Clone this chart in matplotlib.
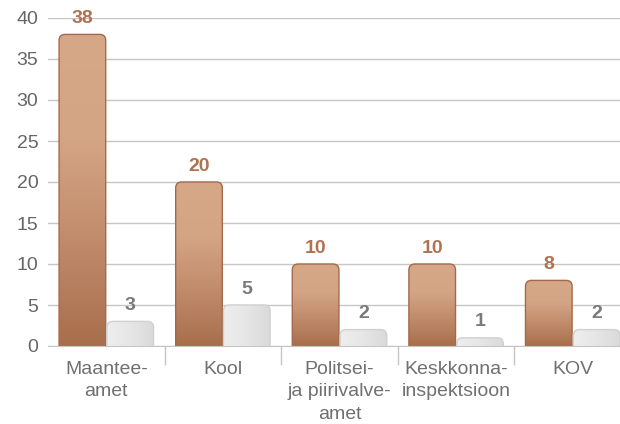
import numpy as np
import matplotlib
matplotlib.use("Agg")
import matplotlib.pyplot as plt
from matplotlib.patches import FancyBboxPatch
from matplotlib.colors import LinearSegmentedColormap

categories = ["Maantee-\namet", "Kool", "Politsei-\nja piirivalve-\namet", "Keskkonna-\ninspektsioon", "KOV"]
series_a = [38, 20, 10, 10, 8]
series_b = [3, 5, 2, 1, 2]
yticks = [0, 5, 10, 15, 20, 25, 30, 35, 40]

plt.rcParams['font.family'] = ['Liberation Sans', 'DejaVu Sans']

fig = plt.figure(figsize=(6.2, 4.24), dpi=100)
W, H = 620, 424
left, right, bottom, top = 48, 631, 346, 18
ax = fig.add_axes([left / W, (H - bottom) / H, (right - left) / W, (bottom - top) / H])
ax.set_xlim(-0.5, 4.5)
ax.set_ylim(0, 40)

x = np.arange(len(categories))
bw = 0.4
off = 0.205

brown_cmap = LinearSegmentedColormap.from_list("br", ["#a86e4c", "#c08b6b", "#d4a585", "#d6a887"])
gray_cmap = LinearSegmentedColormap.from_list("gr", ["#eeeeef", "#e6e6e7", "#dadadb"])

bars_a = ax.bar(x - off, series_a, bw, alpha=0)
bars_b = ax.bar(x + off, series_b, bw, alpha=0)

px_x = (right - left) / 5.0
px_y = (bottom - top) / 40.0
r_px = 6
rx = r_px / px_x
asp = (r_px / px_y) / rx

def draw(bars, cmap, edge, horizontal=False):
    for b in bars:
        bx, bwid, bh = b.get_x(), b.get_width(), b.get_height()
        p = FancyBboxPatch((bx, -2), bwid, bh + 2,
                           boxstyle=f"round,pad=0,rounding_size={rx}",
                           mutation_aspect=asp, facecolor="none",
                           edgecolor=edge, linewidth=1.0, zorder=3)
        ax.add_patch(p)
        if horizontal:
            grad = np.linspace(0, 1, 256).reshape(1, -1)
        else:
            grad = np.linspace(0, 1, 256).reshape(-1, 1)
        im = ax.imshow(grad, extent=[bx, bx + bwid, 0, bh], origin="lower",
                       cmap=cmap, aspect="auto", zorder=2)
        im.set_clip_path(p)

draw(bars_a, brown_cmap, "#a3694a")
draw(bars_b, gray_cmap, "#d0d0d1", horizontal=True)
ax.set_xlim(-0.5, 4.5)
ax.set_ylim(0, 40)

for xi, v in zip(x - off, series_a):
    ax.text(xi, v + 0.9, str(v), ha="center", va="bottom", fontsize=14,
            fontweight="bold", color="#b07252", zorder=4)
for xi, v in zip(x + off, series_b):
    ax.text(xi, v + 0.9, str(v), ha="center", va="bottom", fontsize=14,
            fontweight="bold", color="#7a7a7a", zorder=4)

ax.set_yticks(yticks)
ax.set_yticklabels([str(t) for t in yticks])
ax.yaxis.grid(True, color="#c6c6c6", linewidth=1.0, zorder=0)
ax.set_axisbelow(True)
ax.tick_params(axis="y", length=0, pad=7, labelsize=14, labelcolor="#666666")

ax.set_xticks(x)
ax.set_xticklabels(categories, linespacing=1.4)
ax.tick_params(axis="x", length=0, pad=11, labelsize=14, labelcolor="#707070")
ax.set_xticks([0.5, 1.5, 2.5, 3.5], minor=True)
ax.tick_params(axis="x", which="minor", length=14, color="#c6c6c6", width=1)

for s in ["top", "right", "left"]:
    ax.spines[s].set_visible(False)
ax.spines["bottom"].set_color("#c6c6c6")
ax.spines["bottom"].set_zorder(5)

fig.savefig("out.png", dpi=100)
